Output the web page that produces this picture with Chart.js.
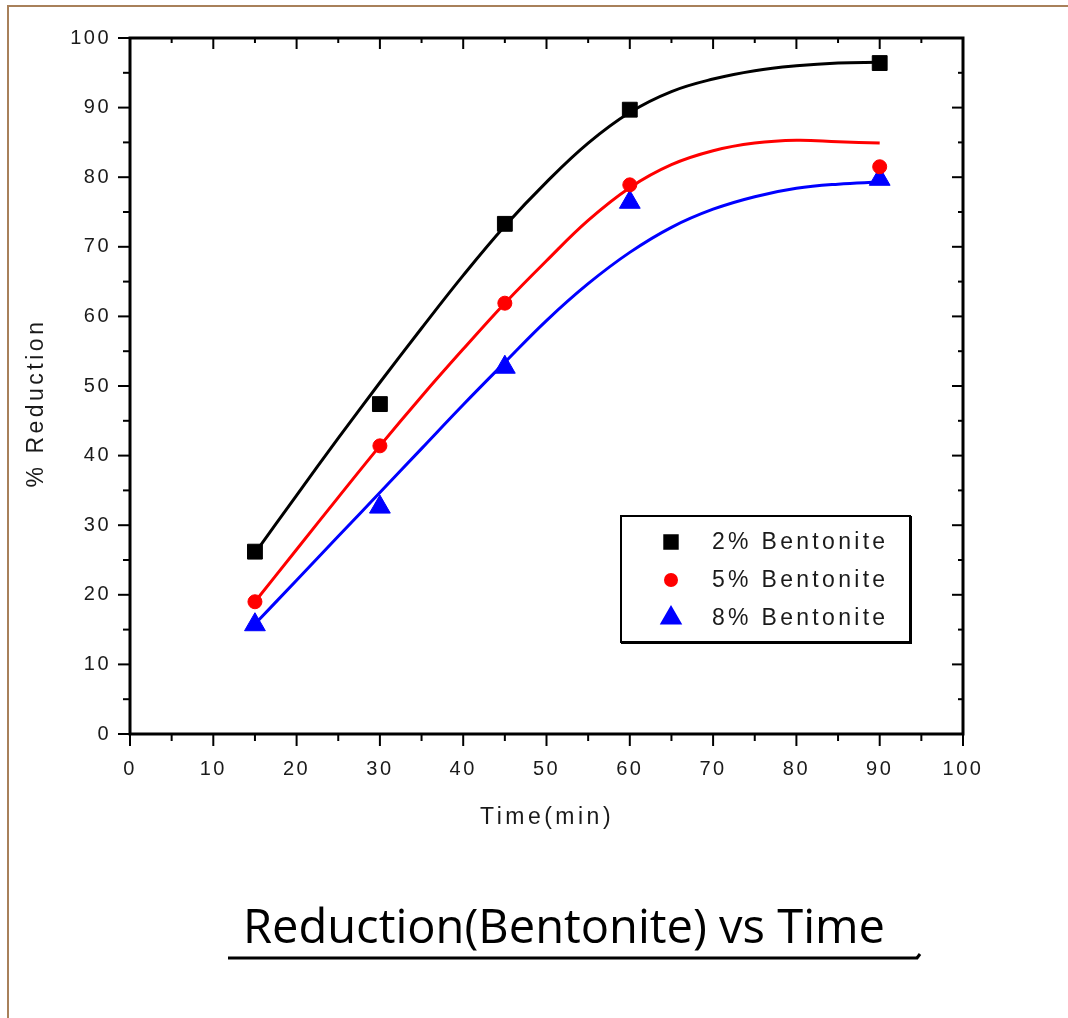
<!DOCTYPE html>
<html>
<head>
<meta charset="utf-8">
<script src="https://cdn.jsdelivr.net/npm/chart.js@4.4.0/dist/chart.umd.min.js"></script>
<style>
  body { margin: 0; background: #fff; }
  canvas { display: block; }
</style>
</head>
<body>
<canvas id="graphic-bentonite" width="1068" height="1018"></canvas>
<script>
// measured points
const times = [15, 30, 45, 60, 90];
const bent2 = [26.2, 47.4, 73.3, 89.7, 96.4];
const bent5 = [19.0, 41.4, 61.9, 78.9, 81.5];
const bent8 = [15.7, 32.6, 52.7, 76.4, 79.7];

// fitted curves, every 5 min
const fitTimes = [15, 20, 25, 30, 35, 40, 45, 50, 55, 60, 65, 70, 75, 80, 85, 90];
const fit2 = [26.0, 34.3, 42.5, 50.5, 58.3, 65.9, 73.0, 79.3, 84.9, 89.3, 92.3, 94.1, 95.3, 96.0, 96.4, 96.5];
const fit5 = [19.0, 26.5, 34.0, 41.4, 48.5, 55.3, 61.9, 68.0, 73.8, 78.5, 81.8, 83.8, 84.9, 85.3, 85.1, 84.9];
const fit8 = [15.8, 22.1, 28.4, 34.7, 41.0, 47.3, 53.4, 59.4, 64.7, 69.2, 72.8, 75.4, 77.2, 78.4, 79.0, 79.3];

const seriesNames = ['2% Bentonite', '5% Bentonite', '8% Bentonite'];
const xTicks = [0, 10, 20, 30, 40, 50, 60, 70, 80, 90, 100];
const yTicks = [0, 10, 20, 30, 40, 50, 60, 70, 80, 90, 100];

const dataGraphic = document.getElementById('graphic-bentonite');
const fontArial = "Arial, 'Liberation Sans', sans-serif";

function pts(xs, ys) {
    return xs.map((t, i) => ({ x: t, y: ys[i] }));
}

function line(ctx, x1, y1, x2, y2) {
    ctx.beginPath();
    ctx.moveTo(x1, y1);
    ctx.lineTo(x2, y2);
    ctx.stroke();
}

// page background, brown frame and spaced lettering like Origin
const pageBack = {
    id: 'pageBack',
    beforeDraw(chart) {
        const ctx = chart.ctx;
        ctx.save();
        ctx.fillStyle = '#fff';
        ctx.fillRect(0, 0, chart.width, chart.height);
        ctx.strokeStyle = '#a8805a';
        ctx.lineWidth = 2;
        line(ctx, 8, 6, 8, chart.height);
        line(ctx, 7, 6, chart.width, 6);
        ctx.restore();
        ctx.letterSpacing = '2.5px';
    }
};

// box frame with ticks on all four sides, axis titles, legend and caption
const originFrame = {
    id: 'originFrame',
    afterDraw(chart) {
        const ctx = chart.ctx;
        const a = chart.chartArea;
        const x = chart.scales.x, y = chart.scales.y;
        ctx.save();
        ctx.strokeStyle = '#000';
        ctx.lineWidth = 3;
        ctx.strokeRect(a.left, a.top, a.right - a.left, a.bottom - a.top);
        ctx.lineWidth = 2;
        for (let v = 0; v <= 100; v += 5) {
            const major = v % 10 === 0;
            const px = x.getPixelForValue(v);
            const py = y.getPixelForValue(v);
            line(ctx, px, a.bottom, px, a.bottom + (major ? 12 : 7));
            line(ctx, px, a.top, px, a.top + (major ? 11 : 5));
            line(ctx, a.left - (major ? 12 : 7), py, a.left, py);
            line(ctx, a.right - (major ? 11 : 5), py, a.right, py);
        }

        // axis titles
        ctx.fillStyle = '#1a1a1a';
        ctx.font = '23px ' + fontArial;
        ctx.letterSpacing = '3.5px';
        ctx.textAlign = 'center';
        ctx.textBaseline = 'middle';
        ctx.fillText('Time(min)', 547, 818);
        ctx.save();
        ctx.translate(37, 405);
        ctx.rotate(-Math.PI / 2);
        ctx.fillText('% Reduction', 2, 0);
        ctx.restore();

        // legend
        ctx.lineWidth = 2;
        ctx.strokeStyle = '#000';
        ctx.strokeRect(621, 516, 289, 126);
        ctx.fillStyle = '#000';
        ctx.fillRect(909, 516, 3, 128);
        ctx.fillRect(621, 641, 291, 3);
        ctx.font = '23px ' + fontArial;
        ctx.letterSpacing = '3.3px';
        ctx.textAlign = 'left';
        const rows = [542, 580, 618];
        for (let i = 0; i < 3; i++) {
            const ds = chart.data.datasets[i];
            ctx.fillStyle = ds.backgroundColor;
            ctx.strokeStyle = ds.borderColor;
            Chart.helpers.drawPoint(ctx, {
                pointStyle: ds.pointStyle,
                radius: ds.pointRadius - 1,
                rotation: 0,
                borderWidth: 1
            }, 671, rows[i]);
            ctx.fillStyle = '#1a1a1a';
            ctx.fillText(ds.label, 712, rows[i] + 1);
        }

        // caption under the chart
        const caption = 'Reduction(Bentonite) vs Time';
        ctx.letterSpacing = '0px';
        ctx.font = "48px 'Open Sans', 'Noto Sans', sans-serif";
        ctx.textBaseline = 'alphabetic';
        ctx.fillStyle = '#000';
        const w = ctx.measureText(caption).width;
        ctx.save();
        ctx.translate(243, 943);
        ctx.scale(642 / w, 1);
        ctx.fillText(caption, 0, 0);
        ctx.restore();
        ctx.strokeStyle = '#000';
        ctx.lineWidth = 3;
        line(ctx, 228, 958, 918, 958);
        line(ctx, 917, 958, 920, 954);
        ctx.restore();
    }
};

new Chart(dataGraphic, {
    type: 'scatter',
    data: {
        datasets: [
            {
                label: seriesNames[0],
                data: pts(times, bent2),
                pointStyle: 'rect',
                pointRadius: 10.5,
                backgroundColor: '#000000',
                borderColor: '#000000',
                order: 0
            },
            {
                label: seriesNames[1],
                data: pts(times, bent5),
                pointStyle: 'circle',
                pointRadius: 7,
                backgroundColor: '#ff0000',
                borderColor: '#ff0000',
                order: 0
            },
            {
                label: seriesNames[2],
                data: pts(times, bent8),
                pointStyle: 'triangle',
                pointRadius: 12,
                backgroundColor: '#0000ff',
                borderColor: '#0000ff',
                order: 0
            },
            {
                label: 'fit 2%',
                data: pts(fitTimes, fit2),
                showLine: true,
                pointRadius: 0,
                borderColor: '#000000',
                borderWidth: 3,
                tension: 0.4,
                order: 1
            },
            {
                label: 'fit 5%',
                data: pts(fitTimes, fit5),
                showLine: true,
                pointRadius: 0,
                borderColor: '#ff0000',
                borderWidth: 3,
                tension: 0.4,
                order: 1
            },
            {
                label: 'fit 8%',
                data: pts(fitTimes, fit8),
                showLine: true,
                pointRadius: 0,
                borderColor: '#0000ff',
                borderWidth: 3,
                tension: 0.4,
                order: 1
            }
        ]
    },
    options: {
        responsive: false,
        maintainAspectRatio: false,
        animation: false,
        layout: {
            padding: { left: 0, top: 38, right: 105, bottom: 224 }
        },
        scales: {
            x: {
                type: 'linear',
                min: 0,
                max: 100,
                afterBuildTicks: s => { s.ticks = xTicks.map(v => ({ value: v })); },
                afterFit: s => { s.height = 60; },
                grid: { display: false, drawTicks: false },
                border: { display: false },
                ticks: {
                    padding: 23,
                    color: '#1a1a1a',
                    font: { family: fontArial, size: 20 }
                }
            },
            y: {
                min: 0,
                max: 100,
                afterBuildTicks: s => { s.ticks = yTicks.map(v => ({ value: v })); },
                afterFit: s => { s.width = 130; },
                grid: { display: false, drawTicks: false },
                border: { display: false },
                ticks: {
                    padding: 19,
                    color: '#1a1a1a',
                    font: { family: fontArial, size: 20 }
                }
            }
        },
        plugins: {
            legend: { display: false },
            tooltip: { enabled: false }
        }
    },
    plugins: [pageBack, originFrame]
});
</script>
</body>
</html>
